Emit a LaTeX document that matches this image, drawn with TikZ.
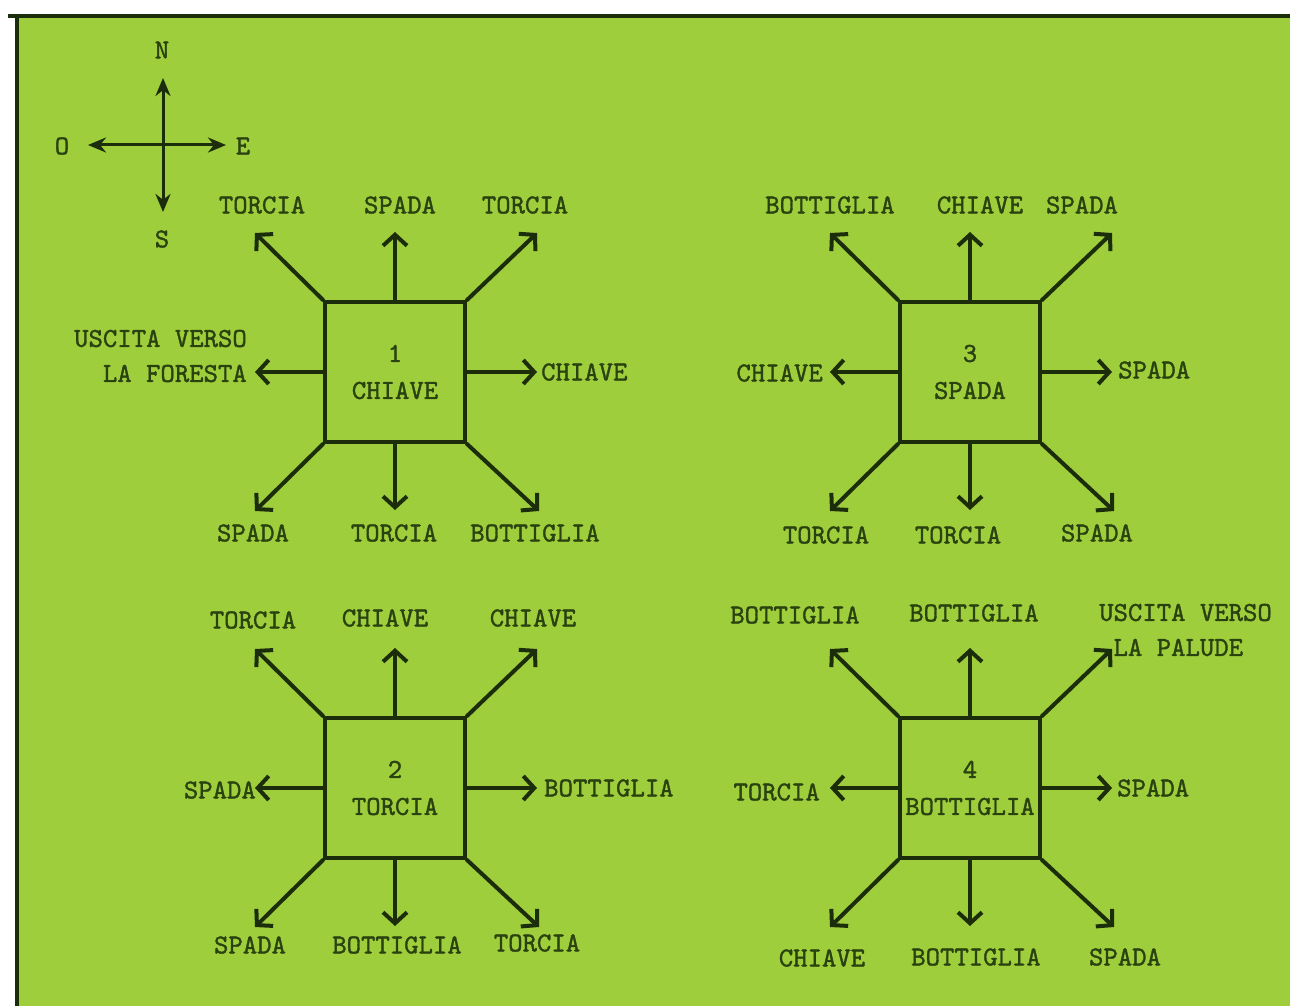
\documentclass[tikz,border=0pt]{standalone}
\usepackage{fontspec}
\newfontfamily\tw[FakeBold=1.3]{lmmono10-regular.otf}
\usetikzlibrary{arrows.meta}
\definecolor{bg}{RGB}{158,206,60}
\definecolor{ink}{RGB}{28,45,12}
\definecolor{txt}{RGB}{42,66,16}
\newcommand\myroom[5]{%
 \node[roombox] (#1) at (#2,#3) {#4\\#5};
 \coordinate (#1n) at (#2,#3-140);
 \coordinate (#1ne) at (#2+142,#3-139);
 \coordinate (#1nw) at (#2-140,#3-139);
 \coordinate (#1e) at (#2+142,#3);
 \coordinate (#1w) at (#2-140,#3);
 \coordinate (#1se) at (#2+144,#3+139);
 \coordinate (#1s) at (#2,#3+138);
 \coordinate (#1sw) at (#2-140,#3+139);
 \draw[arr] (#1.north) -- (#1n);
 \draw[arr] (#1.north east) -- (#1ne);
 \draw[arr] (#1.north west) -- (#1nw);
 \draw[arr] (#1.east) -- (#1e);
 \draw[arr] (#1.west) -- (#1w);
 \draw[arr] (#1.south east) -- (#1se);
 \draw[arr] (#1.south) -- (#1s);
 \draw[arr] (#1.south west) -- (#1sw);
}
\begin{document}
\begin{tikzpicture}[x=1pt,y=-1pt,
 lbl/.style={font=\tw\fontsize{27.4}{35}\selectfont, text=txt, inner sep=0pt},
 roombox/.style={draw=ink, line width=4pt, minimum size=140pt, inner sep=0pt, align=center, font=\tw\fontsize{27.4}{37}\selectfont, text=txt},
 arr/.style={draw=ink, line width=4pt, line cap=round, -{Straight Barb[length=11pt,width=24pt,line width=4pt]}},
 comp/.style={draw=ink, line width=3pt, -{Stealth[length=18pt,width=15pt]}}]
\useasboundingbox (0,0) rectangle (1290,1006);
\fill[white] (0,0) rectangle (1290,1006);
\fill[bg] (17,16) rectangle (1290,1006);
\draw[ink, line width=4pt] (8,16) -- (1290,16);
\draw[ink, line width=4pt] (17,16) -- (17,1006);
% compass
\coordinate (cc) at (163,145);
\coordinate (cn) at (163,78);
\coordinate (cs) at (163,212);
\coordinate (cw) at (88,145);
\coordinate (ce) at (226,145);
\draw[comp] (cc) -- (cn);
\draw[comp] (cc) -- (cs);
\draw[comp] (cc) -- (cw);
\draw[comp] (cc) -- (ce);
\node[lbl] (lN) at (162,50) {N};
\node[lbl] (lS) at (162,239) {S};
\node[lbl] (lO) at (62,146) {O};
\node[lbl] (lE) at (243,146) {E};
% rooms
\myroom{ra}{395}{372}{1}{CHIAVE}
\myroom{rc}{970}{372}{3}{SPADA}
\myroom{rb}{395}{788}{2}{TORCIA}
\myroom{rd}{970}{788}{4}{BOTTIGLIA}
% room 1 labels
\node[lbl] (a1) at (262,205) {TORCIA};
\node[lbl] (a2) at (400,205) {SPADA};
\node[lbl] (a3) at (525,205) {TORCIA};
\node[lbl, align=right, anchor=east] (a4) at (247,356) {USCITA VERSO\\LA FORESTA};
\node[lbl, anchor=west] (a5) at (541,372) {CHIAVE};
\node[lbl] (a6) at (253,533) {SPADA};
\node[lbl] (a7) at (394,533) {TORCIA};
\node[lbl] (a8) at (535,533) {BOTTIGLIA};
% room 3 labels
\node[lbl] (c1) at (830,205) {BOTTIGLIA};
\node[lbl] (c2) at (980,205) {CHIAVE};
\node[lbl] (c3) at (1082,205) {SPADA};
\node[lbl, anchor=east] (c4) at (823,373) {CHIAVE};
\node[lbl, anchor=west] (c5) at (1118,370) {SPADA};
\node[lbl] (c6) at (826,535) {TORCIA};
\node[lbl] (c7) at (958,535) {TORCIA};
\node[lbl] (c8) at (1097,533) {SPADA};
% room 2 labels
\node[lbl] (b1) at (253,620) {TORCIA};
\node[lbl] (b2) at (385,618) {CHIAVE};
\node[lbl] (b3) at (533,618) {CHIAVE};
\node[lbl, anchor=east] (b4) at (256,790) {SPADA};
\node[lbl, anchor=west] (b5) at (544,788) {BOTTIGLIA};
\node[lbl] (b6) at (250,945) {SPADA};
\node[lbl] (b7) at (397,945) {BOTTIGLIA};
\node[lbl] (b8) at (537,943) {TORCIA};
% room 4 labels
\node[lbl] (d1) at (795,615) {BOTTIGLIA};
\node[lbl] (d2) at (974,613) {BOTTIGLIA};
\node[lbl, align=left, anchor=west] (d3) at (1099,630) {USCITA VERSO\\\hspace*{0.525em}LA PALUDE};
\node[lbl, anchor=east] (d4) at (820,792) {TORCIA};
\node[lbl, anchor=west] (d5) at (1117,788) {SPADA};
\node[lbl] (d6) at (822,958) {CHIAVE};
\node[lbl] (d7) at (976,957) {BOTTIGLIA};
\node[lbl] (d8) at (1125,957) {SPADA};
\end{tikzpicture}
\end{document}
